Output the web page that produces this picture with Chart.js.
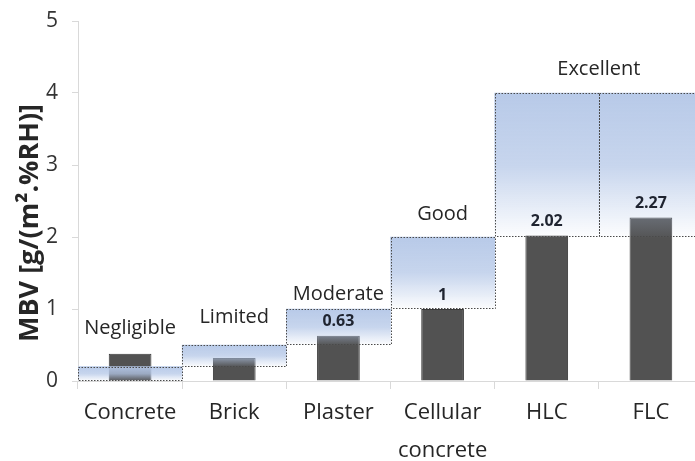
<!DOCTYPE html>
<html><head><meta charset="utf-8">
<script src="https://cdn.jsdelivr.net/npm/chart.js@4.4.1/dist/chart.umd.min.js"></script>
<style>
html,body{margin:0;padding:0;background:#fff;overflow:hidden;width:695px;height:461px}
#wrap{width:695px;height:461px;overflow:hidden;position:relative}
canvas{display:block}
</style></head>
<body><div id="wrap"><canvas id="c" width="720" height="461"></canvas></div>
<script>
const categories = ['Concrete', 'Brick', 'Plaster', ['Cellular', 'concrete'], 'HLC', 'FLC'];
const mbvValues = [0.38, 0.32, 0.63, 1, 2.02, 2.27];
const barLabels = ['', '', '0.63', '1', '2.02', '2.27'];
const classLow = [0, 0.2, 0.5, 1, 2, 2];
const classHigh = [0.2, 0.5, 1, 2, 4, 4];
const classNames = ['Negligible', 'Limited', 'Moderate', 'Good', 'Excellent'];
const classNameX = [0, 1, 2, 3, 4.5];
const classNameY = [0.73, 0.89, 1.21, 2.32, 4.33];
const yTicks = [0, 1, 2, 3, 4, 5];
const yTitle = 'MBV [g/(m².%RH)]';

const FONT = '"Open Sans", "Noto Sans", sans-serif';

const overlay = {
  id: 'overlay',
  afterDatasetsDraw(chart) {
    const ctx = chart.ctx, xs = chart.scales.x, ys = chart.scales.y;
    ctx.save();
    ctx.strokeStyle = '#4a4a4a';
    ctx.lineWidth = 1;
    ctx.setLineDash([1.5, 1.5]);
    chart.getDatasetMeta(1).data.forEach(el => {
      const p = el.getProps(['x', 'y', 'base', 'width'], true);
      const l = Math.round(p.x - p.width / 2) + 0.5, r = Math.round(p.x + p.width / 2) + 0.5;
      const t = Math.round(p.y) + 0.5, b = Math.round(p.base) - 0.5;
      ctx.strokeRect(l, t, r - l, b - t);
    });
    ctx.setLineDash([]);
    ctx.fillStyle = '#262626';
    ctx.textAlign = 'center';
    ctx.textBaseline = 'middle';
    ctx.font = '20px ' + FONT;
    classNames.forEach((n, i) => {
      ctx.fillText(n, xs.getPixelForValue(classNameX[i]), ys.getPixelForValue(classNameY[i]));
    });
    ctx.font = 'bold 16px ' + FONT;
    ctx.fillStyle = '#1f2430';
    chart.getDatasetMeta(0).data.forEach((el, i) => {
      if (!barLabels[i]) return;
      ctx.fillText(barLabels[i], el.x, el.y - 14);
    });
    // y-axis title
    ctx.translate(30, (ys.top + ys.bottom) / 2 + 22);
    ctx.rotate(-Math.PI / 2);
    ctx.font = 'bold 27px ' + FONT;
    ctx.fillStyle = '#262626';
    ctx.fillText(yTitle, 0, 0);
    ctx.restore();
  }
};

new Chart(document.getElementById('c'), {
  type: 'bar',
  data: {
    labels: categories,
    datasets: [
      {
        label: 'MBV',
        data: mbvValues,
        backgroundColor: '#525252',
        borderColor: '#383838',
        borderWidth: 1,
        barPercentage: 0.41,
        categoryPercentage: 1,
        grouped: false,
        order: 1
      },
      {
        label: 'Class',
        data: classLow.map((lo, i) => [lo, classHigh[i]]),
        backgroundColor(c) {
          const ch = c.chart;
          if (!ch.chartArea || !c.raw) return 'rgba(180,199,231,0.6)';
          const ys = ch.scales.y;
          const top = ys.getPixelForValue(c.raw[1]), bot = ys.getPixelForValue(c.raw[0]);
          const g = ch.ctx.createLinearGradient(0, top, 0, bot);
          g.addColorStop(0, 'rgba(180,199,231,0.95)');
          g.addColorStop(0.5, 'rgba(180,199,231,0.75)');
          g.addColorStop(1, 'rgba(180,199,231,0.03)');
          return g;
        },
        borderWidth: 0,
        barPercentage: 1,
        categoryPercentage: 1,
        grouped: false,
        order: 0
      }
    ]
  },
  options: {
    responsive: false,
    animation: false,
    layout: { padding: { top: 21, right: 17, left: 0, bottom: 0 } },
    plugins: { legend: { display: false }, tooltip: { enabled: false } },
    scales: {
      x: {
        offset: true,
        grid: { offset: true, drawOnChartArea: false, tickLength: 8, color: '#d9d9d9' },
        border: { color: '#d9d9d9' },
        ticks: { font: { family: FONT, size: 22, lineHeight: 1.72 }, color: '#262626', padding: 5, maxRotation: 0, autoSkip: false },
        afterFit(s) { s.height = 80; s.paddingLeft = 0; s.paddingRight = 0; }
      },
      y: {
        min: 0, max: 5,
        afterBuildTicks(s) { s.ticks = yTicks.map(v => ({ value: v })); },
        ticks: { font: { family: FONT, size: 21 }, color: '#333', padding: 14 },
        grid: { drawOnChartArea: false, tickLength: 6, color: '#d9d9d9' },
        border: { color: '#d9d9d9' },
        title: { display: false },
        afterFit(s) { s.width = 78; s.paddingTop = 0; s.paddingBottom = 0; }
      }
    }
  },
  plugins: [overlay]
});
</script>
</body></html>
